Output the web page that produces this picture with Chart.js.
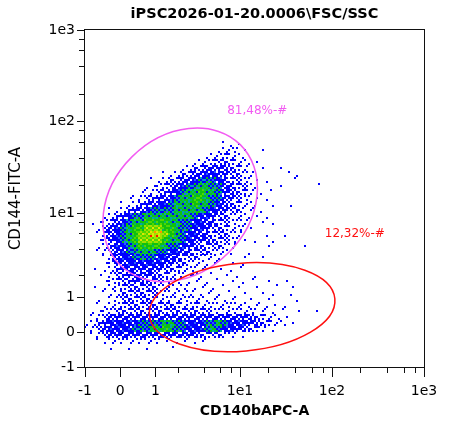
<!DOCTYPE html>
<html lang="en">
<head>
    <meta charset="UTF-8">
    <title>iPSC2026-01-20.0006 FSC/SSC</title>
    <script src="https://cdn.jsdelivr.net/npm/chart.js"></script>
    <style>
        body { margin: 0; background: #fff; }
        canvas { display: block; }
    </style>
</head>
<body>
    <canvas id="plot" width="460" height="432"></canvas>

    <script>
        // axis ticks (raw values), same on both axes
        const tickValues = [-1, 0, 1, 2, 4, 6, 8, 10, 20, 40, 60, 80, 100, 200, 400, 600, 800, 1000];
        const majorTicks = [-1, 0, 1, 10, 100, 1000];
        const majorLabels = ['-1', '0', '1', '1e1', '1e2', '1e3'];
        const axisMin = -1;
        const axisMax = 1000;

        // event density, binned in asinh display units.
        // top row first, one char per bin: 0 = empty ... 9 = dense, a = peak
        const binX0 = -0.9;
        const binY0 = -0.9;
        const binStep = 0.15;
        const densityRows = [
            '000000000000000000000000000000000000000000',
            '000000000000000000000001110000000000000000',
            '000000000000000000000012221001000000000000',
            '000000000000000000001223221000000000000000',
            '000000000000000000122333322110000000000000',
            '000000000000000012334444332101001000000000',
            '000000000000011233445544332210000011000000',
            '000000000001123344566654332210100001000000',
            '000000000011233456677664433210001000000100',
            '000000000112334567787764433211010000000000',
            '000000011233445677887664432210100000000000',
            '000000112344556777877654332210010010000000',
            '000011234456666777776544332111000000000000',
            '000123456677777777655433222110100000000000',
            '011234567788887766554433222101010000000000',
            '001345678899988766554333222100000000000000',
            '00134567899aa98765544333221000100100000000',
            '001245678999987765444333221010010000000000',
            '001235567888876654433332210000100000100000',
            '001234566777665544333222100100000000000000',
            '000134556666554433322210001001000000000000',
            '000124455555544332221110101000000000000000',
            '010123444444433322211010101000000000000000',
            '001023344444332221210101010010000000000000',
            '000123334433322211111010101010100100000000',
            '010122333333222121111101010010001010000000',
            '000112333333222212111110101001010010000000',
            '001012333332222222221111110100100001000000',
            '001122333333333322322222222111110100000000',
            '011223333333333333333222222221110101001000',
            '012344444444444444444444444433221100000000',
            '123455555666677665556676555443322110000000',
            '123455556667787665556765544332110000000000',
            '012344444444444444433332211000000000000000',
            '001122222222211111111000000000000000000000',
            '000010010010001000000000000000000000000000',
            '000000000000000000000000000000000000000000',
            '000000000000000000000000000000000000000000',
            '000000000000000000000000000000000000000000'
        ];

        // gates, geometry in asinh display units
        const gateNames = ['81,48%-#', '12,32%-#'];
        const gateCenters = [[1.50, 3.20], [3.05, 0.625]];
        const gateRadii = [[2.135, 1.708], [2.33, 1.106]];
        const gateAngles = [45, 5.2];
        const gateLabelPos = [[3.43, 5.57], [5.87, 2.47]];

        const plotTitle = 'iPSC2026-01-20.0006\\FSC/SSC';
        const xTitle = 'CD140bAPC-A';
        const yTitle = 'CD144-FITC-A';

        // ---- styling ----
        const gateColors = ['#f25cf2', '#ff1010'];
        const palette = {
            b: '#0000ff', c: '#2a5cff', t: '#00a0b8', s: '#00b46e', g: '#10c010',
            G: '#50d800', l: '#a0e000', y: '#e0e800', o: '#ff9000', r: '#ff1000'
        };
        // speckle tiles per density level: 3x3 blocks of 2x2 px
        const tileMasks = {
            1: [['...', '..b', '...'], ['...', '...', '.b.'], ['b..', '...', '...']],
            2: [['b..', '...', '..b'], ['.b.', '...', 'b..'], ['..b', 'b..', '...']],
            3: [['b.b', '.b.', '..b'], ['.bb', '...', 'b.b'], ['b..', '.bb', '.b.']],
            4: [['bb.', 'b.b', '.bb'], ['b.b', 'bbb', '.b.'], ['.bb', 'bb.', 'b.b']],
            5: [['bbc', 'bbb', '.bb'], ['bb.', 'bcb', 'bbb'], ['bbb', '.bb', 'bcb']],
            6: [['btb', 'gbt', 'bsb'], ['tbg', 'bcb', 'gbt'], ['bgb', 'tbs', 'bgc']],
            7: [['gtg', 'sgb', 'gsg'], ['sgt', 'gbg', 'tgs'], ['gsb', 'tgg', 'gts']],
            8: [['gGg', 'Ggs', 'gGg'], ['Ggg', 'gsG', 'gGg'], ['ggG', 'Ggg', 'sgG']],
            9: [['GlG', 'lGy', 'GlG'], ['lGl', 'GyG', 'lGl']],
            10: [['ylo', 'lyl', 'ryl'], ['lyr', 'yol', 'lyy']]
        };

        function makeTile(mask) {
            const cv = document.createElement('canvas');
            cv.width = 6;
            cv.height = 6;
            const g = cv.getContext('2d');
            mask.forEach((line, yy) => {
                [...line].forEach((ch, xx) => {
                    if (ch === '.') return;
                    g.fillStyle = palette[ch];
                    g.fillRect(xx * 2, yy * 2, 2, 2);
                });
            });
            return cv;
        }
        const tiles = {};
        Object.keys(tileMasks).forEach(k => { tiles[k] = tileMasks[k].map(makeTile); });

        // one point per occupied bin, placed at the bin centre (raw units)
        const cells = [];
        densityRows.forEach((row, r) => {
            [...row].forEach((ch, c) => {
                const level = parseInt(ch, 16);
                if (!level) return;
                const tx = binX0 + (c + 0.5) * binStep;
                const ty = binY0 + (densityRows.length - r - 0.5) * binStep;
                cells.push({ x: Math.sinh(tx), y: Math.sinh(ty), level: level, col: c, row: r });
            });
        });

        // asinh axis, like the cytometer's display transform
        class AsinhScale extends Chart.Scale {
            determineDataLimits() {
                this.min = this.options.min;
                this.max = this.options.max;
            }
            buildTicks() {
                return [];
            }
            configure() {
                super.configure();
                this._tMin = Math.asinh(this.min);
                this._tRange = Math.asinh(this.max) - this._tMin;
            }
            getLabelForValue(v) {
                return String(v);
            }
            getPixelForValue(v) {
                return this.getPixelForDecimal((Math.asinh(v) - this._tMin) / this._tRange);
            }
            getValueForPixel(p) {
                return Math.sinh(this.getDecimalForPixel(p) * this._tRange + this._tMin);
            }
            getPixelForTick(i) {
                return this.getPixelForValue(this.ticks[i].value);
            }
        }
        AsinhScale.id = 'asinh';
        AsinhScale.defaults = {};
        Chart.register(AsinhScale);

        function labelFor(v) {
            const i = majorTicks.indexOf(v);
            return i >= 0 ? majorLabels[i] : '';
        }

        function axisPixel(scale, t) {
            return scale.getPixelForValue(Math.sinh(t));
        }

        const decor = {
            id: 'decor',
            beforeDatasetsDraw(chart) {
                chart.ctx.imageSmoothingEnabled = false;
            },
            afterDatasetsDraw(chart) {
                const ctx = chart.ctx;
                const xs = chart.scales.x, ys = chart.scales.y;
                gateCenters.forEach((cen, i) => {
                    const cx = axisPixel(xs, cen[0]);
                    const cy = axisPixel(ys, cen[1]);
                    const kx = axisPixel(xs, cen[0] + 1) - cx;
                    const ky = axisPixel(ys, cen[1] + 1) - cy;
                    ctx.save();
                    ctx.translate(cx, cy);
                    ctx.scale(kx, ky);
                    ctx.beginPath();
                    ctx.ellipse(0, 0, gateRadii[i][0], gateRadii[i][1], gateAngles[i] * Math.PI / 180, 0, Math.PI * 2);
                    ctx.restore();
                    ctx.save();
                    ctx.strokeStyle = gateColors[i];
                    ctx.lineWidth = 1.5;
                    ctx.stroke();
                    ctx.font = '12px "DejaVu Sans"';
                    ctx.fillStyle = gateColors[i];
                    ctx.textAlign = 'center';
                    ctx.textBaseline = 'middle';
                    ctx.fillText(gateNames[i], axisPixel(xs, gateLabelPos[i][0]), axisPixel(ys, gateLabelPos[i][1]));
                    ctx.restore();
                });
            },
            afterDraw(chart) {
                const ctx = chart.ctx;
                const ca = chart.chartArea;
                const xs = chart.scales.x, ys = chart.scales.y;
                ctx.save();
                ctx.strokeStyle = '#111';
                ctx.lineWidth = 1;
                ctx.strokeRect(ca.left - 0.5, ca.top - 0.5, ca.right - ca.left + 1, ca.bottom - ca.top + 1);

                tickValues.forEach(v => {
                    const major = majorTicks.includes(v);
                    const px = Math.round(xs.getPixelForValue(v)) + 0.5;
                    ctx.beginPath();
                    ctx.moveTo(px, ca.bottom + 1);
                    ctx.lineTo(px, ca.bottom + 1 + (major ? 9 : 5));
                    ctx.stroke();
                    const py = Math.round(ys.getPixelForValue(v)) + 0.5;
                    ctx.beginPath();
                    ctx.moveTo(ca.left - 1, py);
                    ctx.lineTo(ca.left - 1 - (major ? 7 : 5), py);
                    ctx.stroke();
                });

                const midX = (ca.left + ca.right) / 2;
                ctx.fillStyle = '#000';
                ctx.textAlign = 'center';
                ctx.textBaseline = 'middle';
                ctx.font = 'bold 14.5px "DejaVu Sans"';
                ctx.fillText(plotTitle, midX, 14.5);
                ctx.font = 'bold 14px "DejaVu Sans"';
                ctx.fillText(xTitle, midX, 411);
                ctx.translate(16.5, (ca.top + ca.bottom) / 2);
                ctx.rotate(-Math.PI / 2);
                ctx.font = '15px "DejaVu Sans"';
                ctx.fillText(yTitle, 0, 0);
                ctx.restore();
            }
        };

        Chart.defaults.font.family = 'DejaVu Sans';

        const tickFont = { family: 'DejaVu Sans', size: 14 };

        new Chart(document.getElementById('plot'), {
            type: 'scatter',
            data: {
                datasets: [{
                    data: cells,
                    pointRadius: 3,
                    pointHoverRadius: 3,
                    pointStyle: ctx => {
                        const p = ctx.raw;
                        if (!p) return 'rect';
                        const set = tiles[p.level];
                        return set[(p.col * 2 + p.row) % set.length];
                    }
                }]
            },
            options: {
                responsive: false,
                animation: false,
                devicePixelRatio: 1,
                events: [],
                layout: { padding: { left: 0, right: 36, top: 30, bottom: 0 } },
                plugins: {
                    legend: { display: false },
                    tooltip: { enabled: false }
                },
                scales: {
                    x: {
                        type: 'asinh',
                        position: 'bottom',
                        min: axisMin,
                        max: axisMax,
                        afterBuildTicks: s => { s.ticks = tickValues.map(v => ({ value: v })); },
                        afterFit: s => { s.height = 65; },
                        grid: { display: false, tickLength: 9 },
                        border: { display: false },
                        ticks: {
                            autoSkip: false,
                            maxRotation: 0,
                            padding: 7,
                            color: '#000',
                            font: tickFont,
                            callback: v => labelFor(v)
                        }
                    },
                    y: {
                        type: 'asinh',
                        position: 'left',
                        min: axisMin,
                        max: axisMax,
                        afterBuildTicks: s => { s.ticks = tickValues.map(v => ({ value: v })); },
                        afterFit: s => { s.width = 85; },
                        grid: { display: false, tickLength: 7 },
                        border: { display: false },
                        ticks: {
                            autoSkip: false,
                            padding: 3,
                            color: '#000',
                            font: tickFont,
                            callback: v => labelFor(v)
                        }
                    }
                }
            },
            plugins: [decor]
        });
    </script>
</body>
</html>
